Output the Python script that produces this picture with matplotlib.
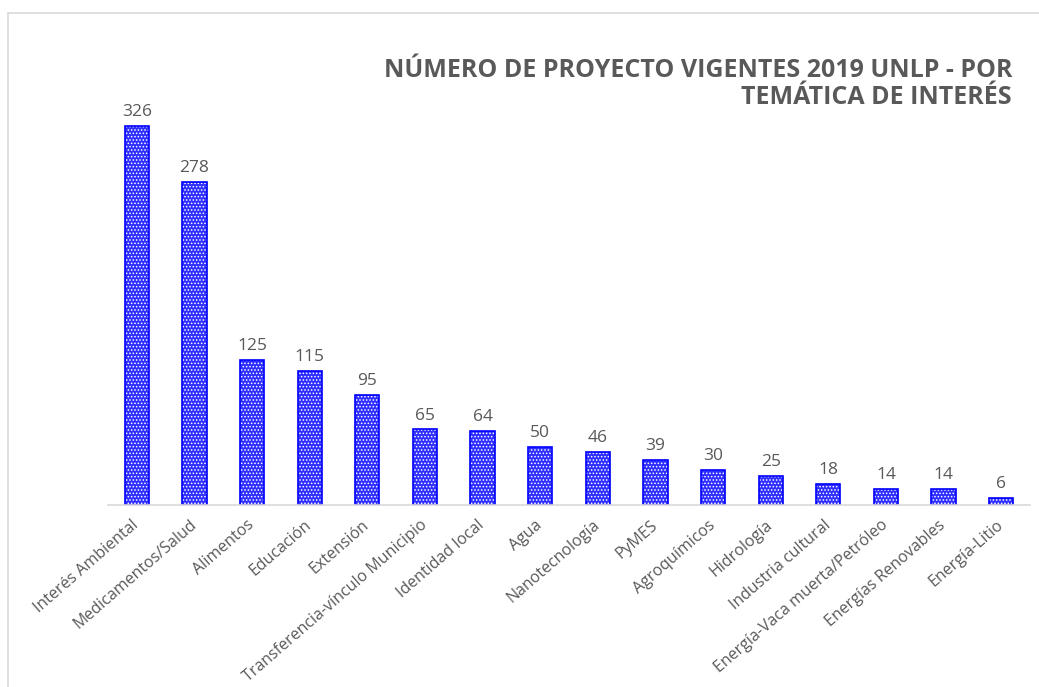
import matplotlib
matplotlib.use('Agg')
import matplotlib.pyplot as plt
from matplotlib.patches import Rectangle

categories = ['Interés Ambiental', 'Medicamentos/Salud', 'Alimentos', 'Educación',
              'Extensión', 'Transferencia-vínculo Municipio', 'Identidad local', 'Agua',
              'Nanotecnología', 'PyMES', 'Agroquímicos', 'Hidrología', 'Industria cultural',
              'Energía-Vaca muerta/Petróleo', 'Energías Renovables', 'Energía-Litio']
values = [326, 278, 125, 115, 95, 65, 64, 50, 46, 39, 30, 25, 18, 14, 14, 6]
title = 'NÚMERO DE PROYECTO VIGENTES 2019 UNLP - POR\nTEMÁTICA DE INTERÉS'

plt.rcParams['font.family'] = ['Open Sans', 'DejaVu Sans']
plt.rcParams['hatch.linewidth'] = 0.7
text_color = '#595959'

fig = plt.figure(figsize=(10.39, 6.87), dpi=100)
ax = fig.add_axes([108 / 1039, 1 - 505 / 687, 922 / 1039, 407 / 687])

x = range(len(values))
# checkered fill: blue face with white dot hatch, then a blue outline on top
ax.bar(x, values, width=0.42, color='#2e2eff', edgecolor='white',
       linewidth=0, hatch='.....')
ax.bar(x, values, width=0.42, fill=False, edgecolor='#0000ff', linewidth=1.2)

for xi, v in zip(x, values):
    ax.text(xi, v + 5, str(v), ha='center', va='bottom', fontsize=12.5, color=text_color)

ax.set_xlim(-0.5, len(values) - 0.5)
ax.set_ylim(0, 407 / 1.163)
ax.set_yticks([])
ax.set_xticks(list(x))
ax.set_xticklabels(categories, rotation=41, ha='right', va='center',
                   rotation_mode='anchor', fontsize=11.5, color=text_color)
ax.tick_params(axis='x', length=0, pad=13)
for side in ['top', 'right', 'left']:
    ax.spines[side].set_visible(False)
ax.spines['bottom'].set_color('#d9d9d9')
ax.spines['bottom'].set_linewidth(1.2)

fig.text(1012 / 1039, 1 - 58 / 687, title, ha='right', va='top', fontsize=18,
         fontweight='bold', color=text_color, linespacing=1.1)

fig.patches.append(Rectangle((8 / 1039, -0.1), 1.2, 1 - 13 / 687 + 0.1,
                             transform=fig.transFigure, fill=False,
                             edgecolor='#d9d9d9', linewidth=1.2))

fig.savefig('out.png', dpi=100)
